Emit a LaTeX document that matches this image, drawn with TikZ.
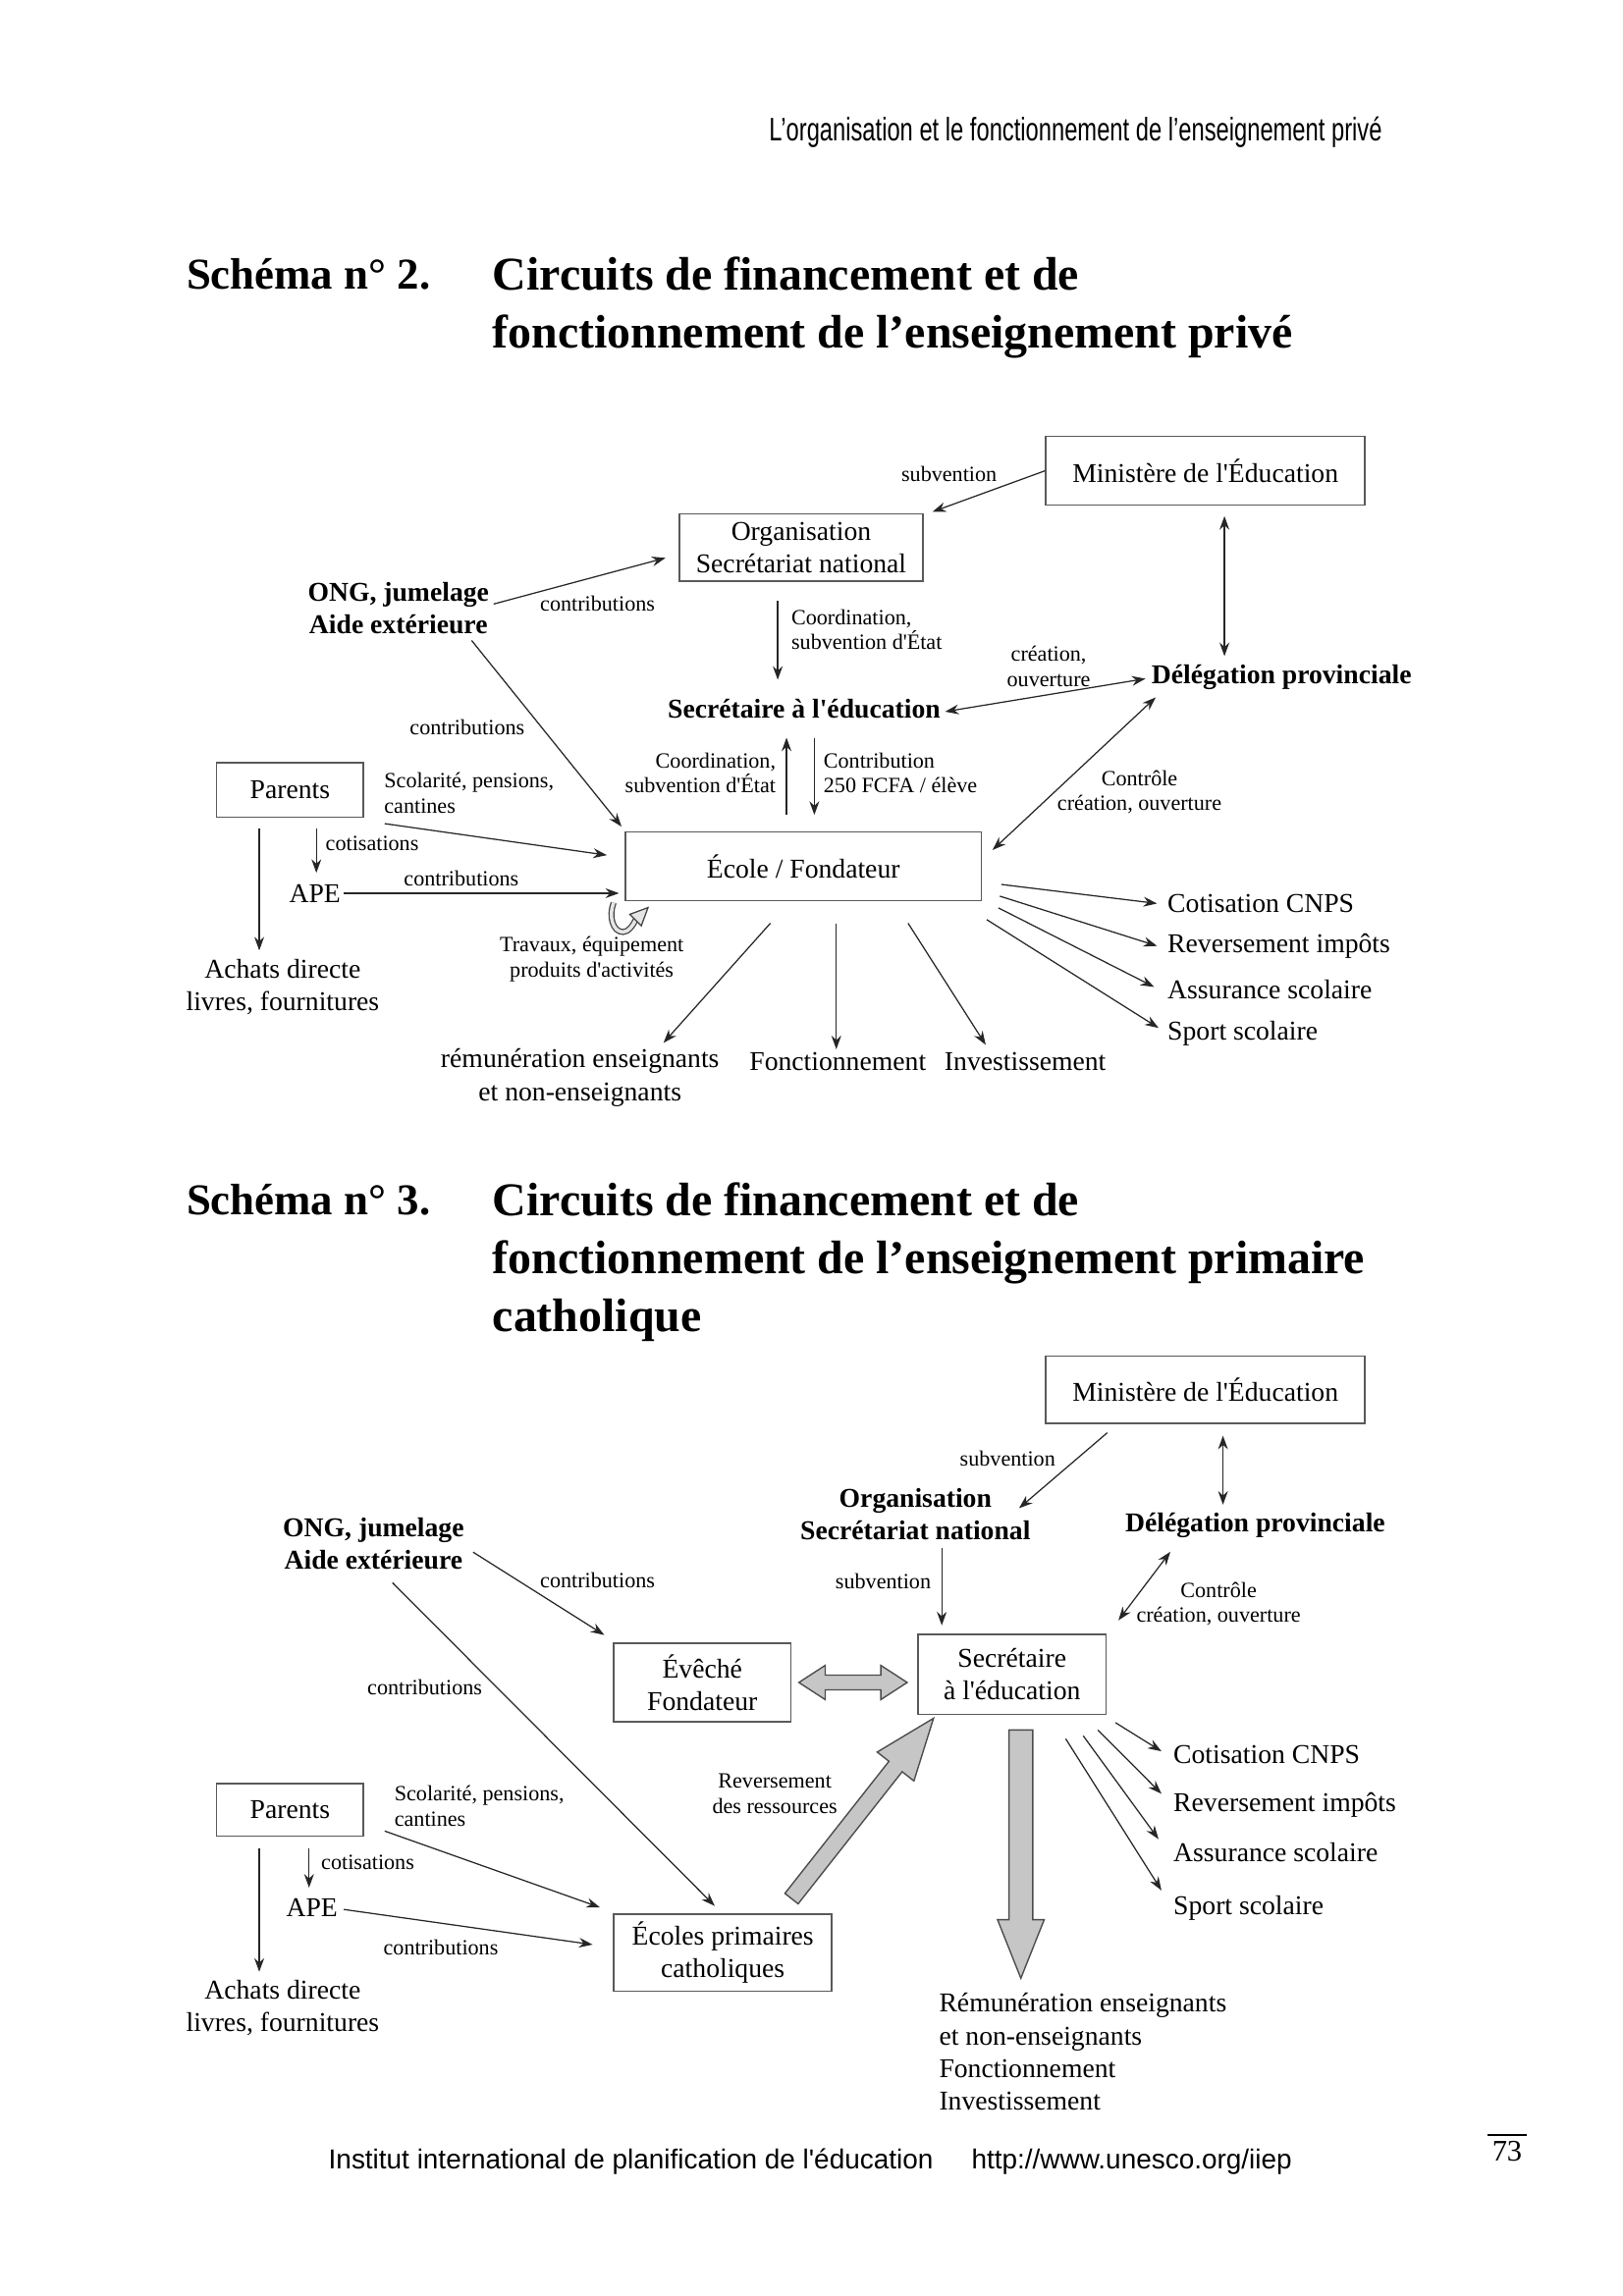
\documentclass[tikz,border=0pt]{standalone}
\usepackage{fontspec}
\setmainfont{Liberation Serif}[Ligatures=TeXOff]
\newfontfamily\entetefont[FakeStretch=0.715]{Liberation Sans}
\newfontfamily\piedfont{Liberation Sans}
\usetikzlibrary{
  calc,
  arrows.meta,
  positioning
}

% grosse fleche grise : depart, pointe, demi-fut, demi-tete, longueur tete
\newcommand{\flechepleine}[5]{%
  \coordinate (fp-h) at ($(#2)!#5!(#1)$);
  \draw [fat] ($(#1)!#3!90:(#2)$) -- ($(fp-h)!#3!90:(#2)$) -- ($(fp-h)!#4!90:(#2)$)
    -- (#2) -- ($(fp-h)!#4!-90:(#2)$) -- ($(fp-h)!#3!-90:(#2)$) -- ($(#1)!#3!-90:(#2)$) -- cycle;
}
% grosse fleche grise a deux pointes
\newcommand{\flechedouble}[5]{%
  \coordinate (fd-a) at ($(#1)!#5!(#2)$);
  \coordinate (fd-b) at ($(#2)!#5!(#1)$);
  \draw [fat] (#1) -- ($(fd-a)!#4!90:(#2)$) -- ($(fd-a)!#3!90:(#2)$) -- ($(fd-b)!#3!90:(#2)$)
    -- ($(fd-b)!#4!90:(#2)$) -- (#2) -- ($(fd-b)!#4!-90:(#2)$) -- ($(fd-b)!#3!-90:(#2)$)
    -- ($(fd-a)!#3!-90:(#2)$) -- ($(fd-a)!#4!-90:(#2)$) -- cycle;
}

\begin{document}
\begin{tikzpicture}[
    x=0.018953cm, y=-0.018953cm,
    font=\fontsize{10}{12}\selectfont,
    box/.style={rectangle, draw=black!65, line width=0.55pt, align=center, inner sep=1pt},
    txt/.style={align=center, inner sep=1pt},
    gras/.style={txt, font=\fontsize{10}{12}\selectfont\bfseries},
    lbl/.style={align=center, inner sep=0pt, font=\fontsize{8}{9.2}\selectfont},
    numero/.style={anchor=north west, inner sep=0pt, font=\fontsize{16.2}{21.5}\selectfont\bfseries},
    titre/.style={anchor=north west, align=left, inner sep=0pt, font=\fontsize{17.3}{21.4}\selectfont\bfseries},
    arrow/.style={draw=black!85, line width=0.45pt, -{Stealth[length=5pt,width=3.6pt]}},
    darrow/.style={arrow, {Stealth[length=5pt,width=3.6pt]}-{Stealth[length=5pt,width=3.6pt]}},
    fat/.style={fill=gray!45, draw=black!70, line width=0.5pt}
  ]
  \useasboundingbox (0,0) rectangle (1108,1568);

  % Entete et titres
  \node (entete) [anchor=base east, inner sep=0pt, font=\entetefont\fontsize{12}{14}\selectfont] at (944,96) {L’organisation et le fonctionnement de l’enseignement privé};
  \node (num2) [numero] at (127,176) {Schéma n° 2.};
  \node (tit2) [titre] at (336,175) {Circuits de financement et de\\fonctionnement de l’enseignement privé};

  % Schema 2 : noeuds
  \node (min2) [box, minimum width=4.13cm, minimum height=0.89cm] at (823,321.5) {Ministère de l'Éducation};
  \node (org2) [box, minimum width=3.15cm, minimum height=0.87cm] at (547,374) {Organisation\\Secrétariat national};
  \node (ong2) [gras] at (272,415.5) {ONG, jumelage\\Aide extérieure};
  \node (sec2) [gras] at (549,484) {Secrétaire à l'éducation};
  \node (del2) [gras] at (875,462.5) {Délégation provinciale};
  \node (par2) [box, minimum width=1.9cm, minimum height=0.7cm] at (198,539.5) {Parents};
  \node (ape2) [txt] at (215,610) {APE};
  \node (ach2) [txt] at (193,674) {Achats directe\\livres, fournitures};
  \node (eco2) [box, minimum width=4.61cm, minimum height=0.89cm] at (548.5,591.5) {École / Fondateur};
  \node (rem2) [txt] at (396,736) {rémunération enseignants\\et non-enseignants};
  \node (fon2) [txt] at (572,725) {Fonctionnement};
  \node (inv2) [txt] at (700,725) {Investissement};
  \node (cnp2) [txt, anchor=west] at (795,617) {Cotisation CNPS};
  \node (imp2) [txt, anchor=west] at (795,646) {Reversement impôts};
  \node (ass2) [txt, anchor=west] at (795,676) {Assurance scolaire};
  \node (spo2) [txt, anchor=west] at (795,706) {Sport scolaire};

  % Schema 2 : etiquettes
  \node (l-sub2) [lbl] at (648,324) {subvention};
  \node (l-ong2a) [lbl] at (408,412) {contributions};
  \node (l-ong2b) [lbl] at (319,497) {contributions};
  \node (l-coo2) [lbl, anchor=west, align=left] at (540,430) {Coordination,\\subvention d'État};
  \node (l-cre2) [lbl] at (716,455) {création,\\ouverture};
  \node (l-coo2b) [lbl, anchor=east, align=right] at (530,528) {Coordination,\\subvention d'État};
  \node (l-fcfa2) [lbl, anchor=west, align=left] at (562,528) {Contribution\\250 FCFA / élève};
  \node (l-ctl2) [lbl] at (778,541) {Contrôle\\création, ouverture};
  \node (l-sco2) [lbl, anchor=west, align=left] at (262,541.5) {Scolarité, pensions,\\cantines};
  \node (l-cot2) [lbl, anchor=west] at (222,576) {cotisations};
  \node (l-ape2) [lbl] at (315,600) {contributions};
  \node (l-tra2) [lbl] at (404,655) {Travaux, équipement\\produits d'activités};

  % Schema 2 : liens
  \draw [arrow] (min2.west) -- ($(org2.north east)+(6,-1)$);
  \draw [arrow] ($(ong2.east)+(1,-3)$) -- ($(org2.west)+(-9,7)$);
  \draw [arrow] ($(ong2.south)+(50,2)$) -- ($(eco2.north west)+(-2,-3)$);
  \coordinate (o2s) at ($(org2.south)+(-16,13)$);
  \draw [arrow] (o2s) -- ($(o2s |- sec2.north)+(0,-11)$);
  \draw [darrow] ($(sec2.east)+(1,2)$) -- ($(del2.west)+(-2,1)$);
  \coordinate (m2s) at ($(min2.south)+(13,7)$);
  \draw [darrow, shorten >=2pt] (m2s) -- (m2s |- del2.north);
  \coordinate (e2u) at ($(eco2.north)+(-11.5,-11)$);
  \draw [arrow] (e2u) -- ($(e2u |- sec2.south)+(0,11)$);
  \coordinate (s2d) at ($(sec2.south)+(7,11)$);
  \draw [arrow] (s2d) -- ($(s2d |- eco2.north)+(0,-11)$);
  \draw [darrow] ($(del2.south west)+(5,3)$) -- ($(eco2.north east)+(7,13)$);
  \draw [arrow] ($(par2.south east)+(14,4)$) -- ($(eco2.west)+(-12,-7.5)$);
  \coordinate (p2a) at ($(par2.south)+(-21,7)$);
  \draw [arrow, shorten >=2pt] (p2a) -- (p2a |- ach2.north);
  \coordinate (p2c) at ($(par2.south)+(18,7)$);
  \draw [arrow, shorten >=3pt] (p2c) -- (p2c |- ape2.north);
  \draw [arrow, shorten >=2pt] (ape2.east) -- (ape2.east -| eco2.west);
  % boucle travaux
  \begin{scope}[shift={(eco2.south west)}]
    \draw [draw=black!75, double=gray!20, double distance=1.3pt, line width=0.45pt]
      (-7.4,1) .. controls (-11,10) and (-8,21) .. (-1,21) .. controls (3,21) and (6,16) .. (7.6,12.8);
    \draw [fill=gray!20, draw=black!75, line width=0.45pt] (3.7,8.9) -- (16.1,4.3) -- (11.5,16.7) -- cycle;
  \end{scope}
  \draw [arrow] ($(eco2.south)+(-22.5,15)$) -- ($(rem2.north)+(57,-2)$);
  \coordinate (e2f) at ($(eco2.south)+(22.5,15)$);
  \draw [arrow] (e2f) -- (e2f |- fon2.north);
  \draw [arrow] ($(eco2.south)+(71.5,15)$) -- ($(inv2.north)+(-27,-3)$);
  \draw [arrow] ($(eco2.east)+(13,12.5)$) -- ($(cnp2.west)+(-5,0)$);
  \draw [arrow] ($(eco2.east)+(12,20.5)$) -- ($(imp2.west)+(-5,0)$);
  \draw [arrow] ($(eco2.east)+(11,28.5)$) -- ($(ass2.west)+(-7,-2)$);
  \draw [arrow] ($(eco2.east)+(3,36.5)$) -- ($(spo2.west)+(-4,-4)$);

  % Schema 3 : titre
  \node (num3) [numero] at (127,808) {Schéma n° 3.};
  \node (tit3) [titre] at (336,807) {Circuits de financement et de\\fonctionnement de l’enseignement primaire\\catholique};

  % Schema 3 : noeuds
  \node (min3) [box, minimum width=4.13cm, minimum height=0.87cm] at (823,949) {Ministère de l'Éducation};
  \node (org3) [gras] at (625,1034) {Organisation\\Secrétariat national};
  \node (del3) [gras] at (857,1042) {Délégation provinciale};
  \node (ong3) [gras] at (255,1054) {ONG, jumelage\\Aide extérieure};
  \node (eve3) [box, minimum width=2.29cm, minimum height=1.02cm] at (479.5,1149) {Évêché\\Fondateur};
  \node (sec3) [box, minimum width=2.43cm, minimum height=1.04cm] at (691,1143.5) {Secrétaire\\à l'éducation};
  \node (par3) [box, minimum width=1.9cm, minimum height=0.68cm] at (198,1236) {Parents};
  \node (ape3) [txt] at (213,1303) {APE};
  \node (ach3) [txt] at (193,1371.5) {Achats directe\\livres, fournitures};
  \node (eco3) [box, minimum width=2.82cm, minimum height=1cm] at (493.5,1333.5) {Écoles primaires\\catholiques};
  \node (res3) [txt, anchor=north west, align=left] at (639,1359) {Rémunération enseignants\\et non-enseignants\\Fonctionnement\\Investissement};
  \node (cnp3) [txt, anchor=west] at (799,1198) {Cotisation CNPS};
  \node (imp3) [txt, anchor=west] at (799,1233) {Reversement impôts};
  \node (ass3) [txt, anchor=west] at (799,1265) {Assurance scolaire};
  \node (spo3) [txt, anchor=west] at (799,1303) {Sport scolaire};

  % Schema 3 : etiquettes
  \node (l-sub3a) [lbl] at (688,996) {subvention};
  \node (l-sub3b) [lbl] at (603,1080) {subvention};
  \node (l-ong3a) [lbl] at (408,1079) {contributions};
  \node (l-ong3b) [lbl] at (290,1152) {contributions};
  \node (l-ctl3) [lbl] at (832,1095.5) {Contrôle\\création, ouverture};
  \node (l-rev3) [lbl] at (529,1225) {Reversement\\des ressources};
  \node (l-sco3) [lbl, anchor=west, align=left] at (269,1233.5) {Scolarité, pensions,\\cantines};
  \node (l-cot3) [lbl, anchor=west] at (219,1272) {cotisations};
  \node (l-ape3) [lbl] at (301,1330) {contributions};

  % Schema 3 : liens
  \draw [arrow] ($(min3.south)+(-67,6)$) -- ($(org3.east)+(-10,-4)$);
  \coordinate (m3s) at ($(min3.south)+(12,8)$);
  \draw [darrow, shorten >=2pt] (m3s) -- (m3s |- del3.north);
  \draw [arrow] ($(ong3.east)+(4,6)$) -- ($(eve3.north west)+(-6,-5)$);
  \draw [arrow] ($(ong3.south)+(13,7)$) -- ($(eco3.north)+(-5.5,-5)$);
  \coordinate (o3s) at ($(org3.south)+(18,3)$);
  \draw [arrow, shorten >=3pt] (o3s) -- (o3s |- sec3.north);
  \draw [darrow] ($(del3.south west)+(33,7)$) -- ($(sec3.north east)+(8,-9)$);
  \coordinate (dbl-a) at ($(eve3.east)+(5,0)$);
  \coordinate (dbl-b) at ($(sec3.west)+(-7,5.5)$);
  \flechedouble{dbl-a}{dbl-b}{2.7pt}{6.3pt}{9.7pt}
  \coordinate (rev-a) at ($(eco3.north east)+(-28,-10)$);
  \coordinate (rev-b) at ($(sec3.south west)+(11,2)$);
  \flechepleine{rev-a}{rev-b}{3.1pt}{8.6pt}{22.6pt}
  \coordinate (dep-a) at ($(sec3.south)+(6,10)$);
  \coordinate (dep-b) at ($(dep-a |- res3.north)+(0,-8)$);
  \flechepleine{dep-a}{dep-b}{4.4pt}{8.6pt}{21.6pt}
  \draw [arrow] ($(sec3.south east)+(6,5)$) -- ($(cnp3.west)+(-6,-2)$);
  \draw [arrow] ($(sec3.south east)+(-6,10)$) -- ($(imp3.west)+(-6,-8)$);
  \draw [arrow] ($(sec3.south east)+(-16,14)$) -- ($(ass3.west)+(-8,-9)$);
  \draw [arrow] ($(sec3.south east)+(-28,16)$) -- ($(spo3.west)+(-6,-12)$);
  \draw [arrow] ($(par3.south east)+(14,-4)$) -- ($(eco3.north west)+(-9,-4)$);
  \coordinate (p3a) at ($(par3.south)+(-21,8)$);
  \draw [arrow, shorten >=2pt] (p3a) -- (p3a |- ach3.north);
  \coordinate (p3c) at ($(par3.south)+(13,8)$);
  \draw [arrow, shorten >=3pt] (p3c) -- (p3c |- ape3.north);
  \draw [arrow] ($(ape3.east)+(2,1)$) -- ($(eco3.west)+(-14,-5.5)$);

  % Pied de page
  \node (pied1) [anchor=base west, inner sep=0pt, font=\piedfont\fontsize{10.1}{12}\selectfont] at (224,1481) {Institut international de planification de l'éducation};
  \node (pied2) [anchor=base west, inner sep=0pt, font=\piedfont\fontsize{10.1}{12}\selectfont] at (663,1481) {http://www.unesco.org/iiep};
  \node (page) [inner sep=1pt, font=\fontsize{11}{13}\selectfont] at (1029,1469) {73};
  \draw [line width=0.6pt] ($(page.north west)+(-1,-2)$) -- ($(page.north east)+(1,-2)$);

\end{tikzpicture}
\end{document}
